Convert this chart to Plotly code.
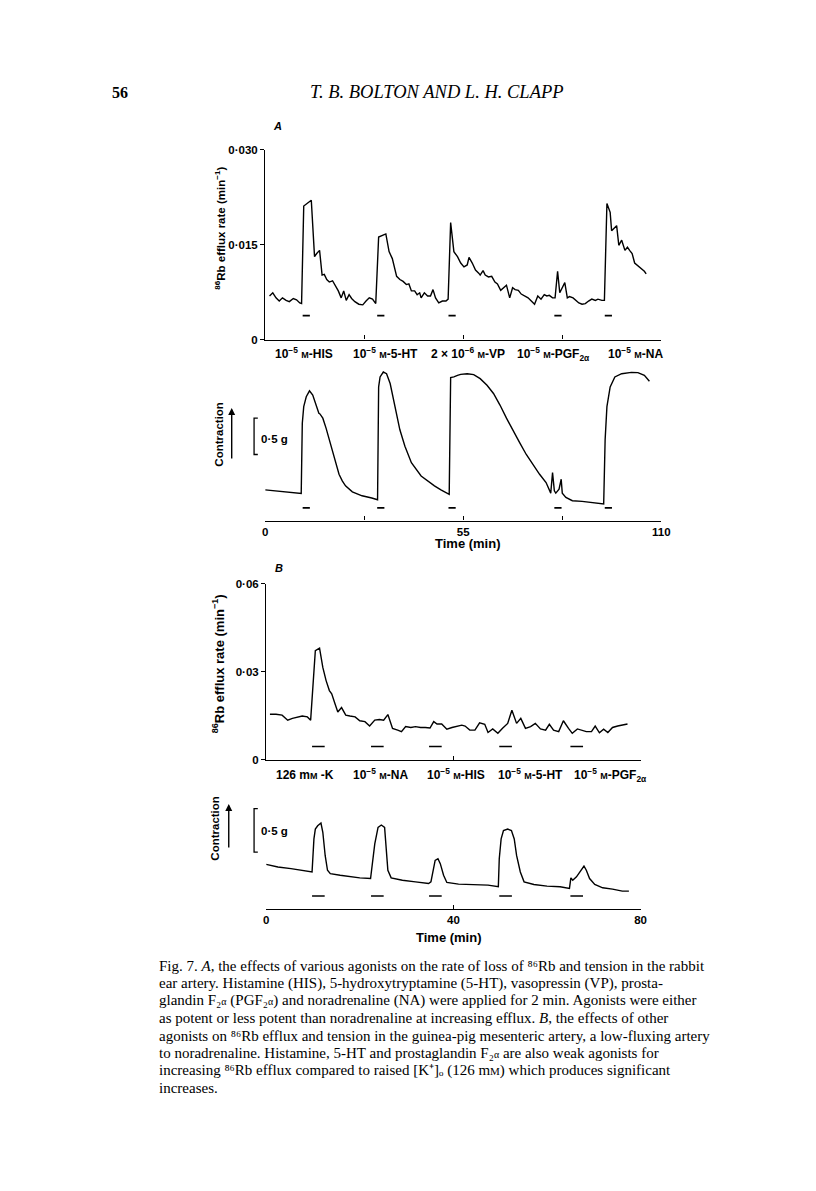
import plotly.graph_objects as go

# ---------------- DATA ----------------
# Panel A: 86Rb efflux rate (min^-1) vs time (min)
a_eff_t = [1.2, 2.1, 3.0, 3.9, 4.8, 5.8, 6.7, 7.8, 8.7, 9.6, 10.1, 10.7, 12.8, 13.7, 14.3, 15.1,
           15.8, 16.4, 17.1, 17.8, 18.7, 19.6, 20.3, 21.1, 21.8, 22.5, 23.3, 24.0, 24.9, 26.0,
           27.1, 28.0, 28.9, 29.8, 30.7, 31.5, 33.5, 34.4, 35.3, 36.5, 37.4, 38.3, 39.2, 39.9,
           40.6, 41.5, 42.2, 42.9, 43.3, 44.2, 45.1, 45.9, 46.6, 47.3, 48.2, 49.2, 50.2, 50.8,
           51.5, 52.4, 53.4, 54.3, 55.2, 56.1, 56.6, 57.5, 58.4, 59.3, 59.7, 60.5, 61.1, 62.0,
           62.9, 63.8, 64.5, 65.4, 66.1, 67.0, 67.9, 68.7, 69.4, 70.3, 71.1, 72.1, 73.0, 73.9,
           74.8, 75.7, 76.6, 77.5, 78.2, 78.9, 79.8, 80.5, 81.2, 81.8, 82.5, 83.2, 83.9, 84.5,
           85.5, 86.2, 87.1, 88.0, 88.9, 89.8, 90.7, 91.7, 92.4, 93.5, 94.2, 94.9, 95.8, 96.2,
           97.1, 97.6, 98.2, 99.0, 99.9, 100.6, 101.2, 101.9, 102.6, 104.0, 105.3, 105.8]
a_eff_v = [0.0069, 0.0074, 0.0066, 0.0061, 0.0066, 0.0062, 0.0060, 0.0065, 0.0063, 0.0058, 0.0057,
           0.0211, 0.0220, 0.0131, 0.0136, 0.0141, 0.0102, 0.0103, 0.0095, 0.0091, 0.0093, 0.0084,
           0.0077, 0.0066, 0.0077, 0.0062, 0.0071, 0.0065, 0.0060, 0.0056, 0.0055, 0.0061, 0.0066,
           0.0064, 0.0057, 0.0162, 0.0167, 0.0139, 0.0128, 0.0100, 0.0095, 0.0092, 0.0087, 0.0088,
           0.0077, 0.0077, 0.0071, 0.0074, 0.0066, 0.0074, 0.0069, 0.0069, 0.0079, 0.0066, 0.0058,
           0.0061, 0.0061, 0.0064, 0.0185, 0.0139, 0.0131, 0.0121, 0.0115, 0.0118, 0.0130, 0.0121,
           0.0110, 0.0105, 0.0102, 0.0109, 0.0102, 0.0099, 0.0100, 0.0091, 0.0088, 0.0078, 0.0082,
           0.0086, 0.0066, 0.0082, 0.0079, 0.0078, 0.0072, 0.0069, 0.0066, 0.0061, 0.0056, 0.0069,
           0.0064, 0.0071, 0.0069, 0.0070, 0.0066, 0.0066, 0.0108, 0.0074, 0.0082, 0.0090, 0.0066,
           0.0068, 0.0066, 0.0062, 0.0058, 0.0056, 0.0057, 0.0061, 0.0064, 0.0062, 0.0064, 0.0062,
           0.0062, 0.0215, 0.0201, 0.0172, 0.0177, 0.0180, 0.0149, 0.0157, 0.0141, 0.0146, 0.0141,
           0.0136, 0.0121, 0.0115, 0.0108, 0.0104]

# Panel A: contraction (g, relative to baseline) vs time (min)
a_con_t = [0.0, 4.1, 6.4, 8.7, 10.0, 10.3, 10.7, 11.4, 12.3, 13.2, 14.1, 14.9, 15.2, 16.0, 16.9,
           17.8, 18.7, 19.6, 20.5, 21.4, 22.3, 24.2, 26.9, 29.6, 31.2, 31.5, 31.9, 32.8, 33.7,
           34.7, 35.6, 36.5, 37.4, 38.8, 40.6, 43.3, 45.1, 47.0, 48.8, 50.2, 51.1, 51.5, 52.4,
           53.4, 54.3, 56.1, 57.9, 59.7, 61.6, 63.4, 65.2, 67.0, 68.9, 70.7, 72.5, 74.3, 76.2,
           78.0, 79.3, 79.8, 80.3, 80.7, 81.6, 82.2, 82.5, 83.5, 85.3, 88.0, 90.7, 94.0, 94.4,
           94.9, 95.8, 97.1, 99.0, 101.7, 103.5, 105.3, 106.7]
a_con_g = [0.218, 0.200, 0.182, 0.177, 0.168, 1.136, 1.364, 1.500, 1.582, 1.523, 1.386, 1.273,
           1.264, 1.205, 1.068, 0.909, 0.727, 0.568, 0.432, 0.341, 0.273, 0.191, 0.136, 0.105,
           0.082, 1.636, 1.773, 1.841, 1.818, 1.682, 1.477, 1.250, 1.045, 0.818, 0.591, 0.409,
           0.341, 0.273, 0.218, 0.182, 0.155, 1.764, 1.773, 1.795, 1.809, 1.818, 1.805, 1.750,
           1.659, 1.545, 1.386, 1.205, 1.023, 0.864, 0.705, 0.568, 0.432, 0.318, 0.173, 0.455,
           0.205, 0.173, 0.227, 0.364, 0.173, 0.114, 0.068, 0.059, 0.045, 0.023, 0.909, 1.364,
           1.636, 1.773, 1.818, 1.836, 1.832, 1.795, 1.714]

# Panel B: 86Rb efflux rate (min^-1) vs time (min)
b_eff_t = [0.8, 2.1, 3.4, 4.6, 5.6, 6.7, 7.7, 8.8, 9.5, 10.5, 11.4, 12.1, 12.8, 13.5, 14.0, 14.7,
           15.3, 16.1, 17.0, 17.9, 19.0, 20.0, 21.1, 22.1, 23.2, 24.2, 25.1, 26.0, 27.0, 28.1,
           28.9, 29.8, 30.9, 31.9, 33.0, 34.0, 35.0, 35.8, 36.5, 37.5, 38.6, 39.7, 40.7, 41.8,
           42.5, 43.5, 44.6, 45.6, 46.7, 47.4, 48.4, 49.5, 50.5, 51.6, 52.5, 53.5, 54.4, 55.4,
           56.5, 57.5, 58.6, 59.7, 60.5, 61.4, 62.5, 63.5, 64.6, 65.4, 66.5, 67.5, 68.4, 69.5,
           70.3, 71.2, 72.1, 73.0, 74.0, 75.1, 76.1, 77.2]
b_eff_v = [0.0155, 0.0155, 0.0152, 0.0135, 0.0141, 0.0146, 0.0149, 0.0146, 0.0135, 0.0372,
           0.0381, 0.0315, 0.0270, 0.0236, 0.0225, 0.0191, 0.0163, 0.0178, 0.0152, 0.0149,
           0.0146, 0.0133, 0.0130, 0.0115, 0.0135, 0.0137, 0.0135, 0.0154, 0.0107, 0.0101,
           0.0096, 0.0113, 0.0110, 0.0113, 0.0110, 0.0110, 0.0108, 0.0130, 0.0122, 0.0122,
           0.0104, 0.0110, 0.0113, 0.0118, 0.0115, 0.0101, 0.0101, 0.0126, 0.0121, 0.0093,
           0.0105, 0.0090, 0.0107, 0.0124, 0.0169, 0.0124, 0.0141, 0.0107, 0.0113, 0.0124,
           0.0105, 0.0101, 0.0121, 0.0101, 0.0096, 0.0133, 0.0107, 0.0090, 0.0105, 0.0101,
           0.0096, 0.0096, 0.0115, 0.0092, 0.0104, 0.0093, 0.0110, 0.0115, 0.0118, 0.0122]

# Panel B: contraction (g, relative to baseline) vs time (min)
b_con_t = [0.0, 2.5, 5.3, 8.1, 9.8, 10.2, 10.5, 11.0, 11.7, 12.1, 12.6, 13.1, 13.7, 15.8, 17.9,
           20.0, 22.3, 22.6, 23.2, 23.9, 24.6, 25.3, 25.6, 26.0, 26.7, 29.1, 31.9, 34.7, 35.2,
           35.6, 36.1, 36.7, 37.2, 37.9, 38.6, 41.1, 43.9, 46.0, 47.4, 49.6, 49.8, 50.2, 50.7,
           51.6, 52.4, 53.0, 53.5, 54.3, 55.1, 57.2, 60.0, 62.8, 64.8, 65.1, 65.5, 66.3, 67.0,
           67.9, 68.4, 69.1, 70.2, 71.9, 74.0, 76.1, 77.5]
b_con_g = [0.390, 0.360, 0.341, 0.322, 0.303, 0.682, 0.795, 0.833, 0.864, 0.758, 0.492, 0.322,
           0.284, 0.265, 0.246, 0.235, 0.227, 0.379, 0.625, 0.814, 0.841, 0.814, 0.606, 0.322,
           0.235, 0.208, 0.189, 0.170, 0.189, 0.322, 0.436, 0.455, 0.398, 0.265, 0.182, 0.163,
           0.159, 0.152, 0.152, 0.133, 0.455, 0.682, 0.777, 0.795, 0.777, 0.682, 0.492, 0.303,
           0.189, 0.159, 0.140, 0.133, 0.114, 0.235, 0.208, 0.246, 0.303, 0.371, 0.322, 0.227,
           0.159, 0.121, 0.106, 0.083, 0.083]

# Agonist applications (start times, min) and duration
a_app_start = [10.4, 31.1, 50.9, 80.3, 94.3]
a_app_dur = 2.0
b_app_start = [9.8, 22.4, 34.8, 49.8, 65.0]
b_app_dur = 2.7

# Labels
M = "<span style='font-size:9px'>M</span>"
a_agonists = ["10<sup>−5</sup> " + M + "-HIS", "10<sup>−5</sup> " + M + "-5-HT",
              "2 × 10<sup>−6</sup> " + M + "-VP", "10<sup>−5</sup> " + M + "-PGF<sub>2α</sub>",
              "10<sup>−5</sup> " + M + "-NA"]
b_agonists = ["126 m" + M + " -K", "10<sup>−5</sup> " + M + "-NA", "10<sup>−5</sup> " + M + "-HIS",
              "10<sup>−5</sup> " + M + "-5-HT", "10<sup>−5</sup> " + M + "-PGF<sub>2α</sub>"]
a_time_ticks = [0, 27.5, 55, 82.5, 110]
a_time_text = ["0", "", "55", "", "110"]
b_time_ticks = [0, 40, 80]
b_time_text = ["0", "40", "80"]
a_eff_ticks = [0, 0.015, 0.030]
a_eff_text = ["0", "0·015", "0·030"]
b_eff_ticks = [0, 0.03, 0.06]
b_eff_text = ["0", "0·03", "0·06"]
scale_g = 0.5

# caption uses Unicode super/subscripts so that every line box has the same height
SA = "₂<span style='font-size:10px'>α</span>"
SC = "<span style='font-size:11px'>M</span>"
caption = [
    "Fig. 7. <i>A</i>, the effects of various agonists on the rate of loss of ⁸⁶Rb and tension in the rabbit",
    "ear artery. Histamine (HIS), 5-hydroxytryptamine (5-HT), vasopressin (VP), prosta-",
    "glandin F" + SA + " (PGF" + SA + ") and noradrenaline (NA) were applied for 2 min. Agonists were either",
    "as potent or less potent than noradrenaline at increasing efflux. <i>B</i>, the effects of other",
    "agonists on ⁸⁶Rb efflux and tension in the guinea-pig mesenteric artery, a low-fluxing artery",
    "to noradrenaline. Histamine, 5-HT and prostaglandin F" + SA + " are also weak agonists for",
    "increasing ⁸⁶Rb efflux compared to raised [K⁺]ₒ (126 m" + SC + ") which produces significant",
    "increases.",
]

# ---------------- FIGURE ----------------
W, H = 816, 1191
def px(x):
    return x / W
def py(y):
    return 1 - y / H

SANS = "Liberation Sans"
SERIF = "Liberation Serif"
LW = 1.4
PAD_SUB = "<sub><span style='color:rgba(255,255,255,0)'>2</span></sub>"

fig = go.Figure()

def line_trace(x, y, xa, ya, width=LW):
    fig.add_trace(go.Scatter(x=x, y=y, mode="lines", xaxis=xa, yaxis=ya,
                             line=dict(color="black", width=width), hoverinfo="skip",
                             showlegend=False))

def bars(starts, dur, level, xa, ya):
    xs, ys = [], []
    for s in starts:
        xs += [s, s + dur, None]
        ys += [level, level, None]
    line_trace(xs, ys, xa, ya, width=1.6)

line_trace(a_eff_t, a_eff_v, "x", "y")
bars(a_app_start, a_app_dur, 0.0038, "x", "y")
line_trace(a_con_t, a_con_g, "x2", "y2")
bars(a_app_start, a_app_dur, -0.03, "x2", "y2")
line_trace(b_eff_t, b_eff_v, "x3", "y3")
bars(b_app_start, b_app_dur, 0.0045, "x3", "y3")
line_trace(b_con_t, b_con_g, "x4", "y4")
bars(b_app_start, b_app_dur, 0.027, "x4", "y4")

tickfont = dict(family=SANS, size=11.5, color="black", weight=700)
common_x = dict(showline=True, linecolor="black", linewidth=1.4, ticks="inside", ticklen=4,
                tickwidth=1.2, tickcolor="black", showgrid=False, zeroline=False, fixedrange=True,
                tickfont=tickfont)
common_y = dict(showline=True, linecolor="black", linewidth=1.4, ticks="outside", ticklen=4,
                tickwidth=1.2, tickcolor="black", showgrid=False, zeroline=False, tickfont=tickfont)

xA = [px(258), px(660)]
xB = [px(259), px(639)]

fig.update_layout(
    width=W, height=H, margin=dict(l=0, r=0, t=0, b=0),
    paper_bgcolor="white", plot_bgcolor="rgba(0,0,0,0)", showlegend=False,
    xaxis=dict(domain=xA, range=[0, 110], anchor="y", tickvals=a_time_ticks,
               showticklabels=False, **common_x),
    yaxis=dict(domain=[py(329), py(137)], range=[0, 0.030], anchor="x",
               tickvals=a_eff_ticks, ticktext=a_eff_text, **common_y),
    xaxis2=dict(domain=xA, range=[0, 110], anchor="y2", tickvals=a_time_ticks,
                ticktext=a_time_text, **common_x),
    yaxis2=dict(domain=[py(511.7), py(350)], range=[-0.205, 2.0], anchor="x2", visible=False),
    xaxis3=dict(domain=xB, range=[0, 80], anchor="y3", tickvals=b_time_ticks,
                showticklabels=False, **common_x),
    yaxis3=dict(domain=[py(753.3), py(575.7)], range=[0, 0.06], anchor="x3",
                tickvals=b_eff_ticks, ticktext=b_eff_text, **common_y),
    xaxis4=dict(domain=xB, range=[0, 80], anchor="y4", tickvals=b_time_ticks,
                ticktext=b_time_text, **common_x),
    yaxis4=dict(domain=[py(904), py(796.5)], range=[-0.1212, 1.1], anchor="x4", visible=False),
)

ann = []
def text(x, y, s, size=11, family=SANS, bold=True, italic=False, xanchor="center",
         angle=0, yanchor="middle"):
    ann.append(dict(x=px(x), y=py(y), xref="paper", yref="paper", text=s, showarrow=False,
                    xanchor=xanchor, yanchor=yanchor, textangle=angle,
                    font=dict(family=family, size=size, color="black",
                              weight=700 if bold else 400,
                              style="italic" if italic else "normal")))

# Header
text(100, 79, "56", size=16, family=SERIF, bold=True, xanchor="left")
text(432, 79, "T. B. BOLTON AND L. H. CLAPP", size=18.5, family=SERIF, bold=False, italic=True)

# Panel letters
text(270, 113, "A", size=11, italic=True)
text(272, 560, "B", size=11, italic=True)

# Y axis titles
text(212, 216, "<sup>86</sup>Rb efflux rate (min<sup>−1</sup>)", size=11.5, angle=-90)
text(211, 656, "<sup>86</sup>Rb efflux rate (min<sup>−1</sup>)", size=13, angle=-90)

# Agonist labels (bottom-anchored so all share one baseline)
for xc, s in zip([300, 382, 466, 553, 636], a_agonists):
    text(xc, 355, s + PAD_SUB, size=12, yanchor="bottom")
for xc, s in zip([301, 378, 454, 529, 610], b_agonists):
    text(xc, 780, s + PAD_SUB, size=12, yanchor="bottom")

# Time titles
text(464, 535, "Time (min)", size=13)
text(445, 933, "Time (min)", size=13)

# Contraction labels + arrows + scale bars
text(211, 424, "Contraction", size=11.5, angle=-90)
text(207, 822, "Contraction", size=11.5, angle=-90)
for (xa, ytip, ylen) in [(224, 398, 52), (221, 798, 45)]:
    ann.append(dict(x=px(xa), y=py(ytip), xref="paper", yref="paper", showarrow=True,
                    ax=0, ay=ylen, axref="pixel", ayref="pixel", text="", arrowhead=2,
                    arrowsize=1, arrowwidth=1.4, arrowcolor="black"))
text(252, 429, "0·5 g", size=11.5, xanchor="left")
text(252, 825, "0·5 g", size=11.5, xanchor="left")

# Caption: fixed pitch, one annotation per line
cap_y0, cap_dy = 962.0, 17.5
for i, line in enumerate(caption):
    text(148, cap_y0 + i * cap_dy, line, size=15, family=SERIF, bold=False, xanchor="left")

fig.update_layout(annotations=ann)

# Scale bars (0.5 g) drawn in data units of the contraction axes
shapes = []
for yref, base in [("y2", 0.705), ("y4", 0.530)]:
    x0, x1 = px(246.7), px(250.5)
    shapes.append(dict(type="path", xref="paper", yref=yref,
                       path=f"M {x1},{base + scale_g} L {x0},{base + scale_g} L {x0},{base} L {x1},{base}",
                       line=dict(color="black", width=1.3)))
fig.update_layout(shapes=shapes)

fig.write_html("out.html")
